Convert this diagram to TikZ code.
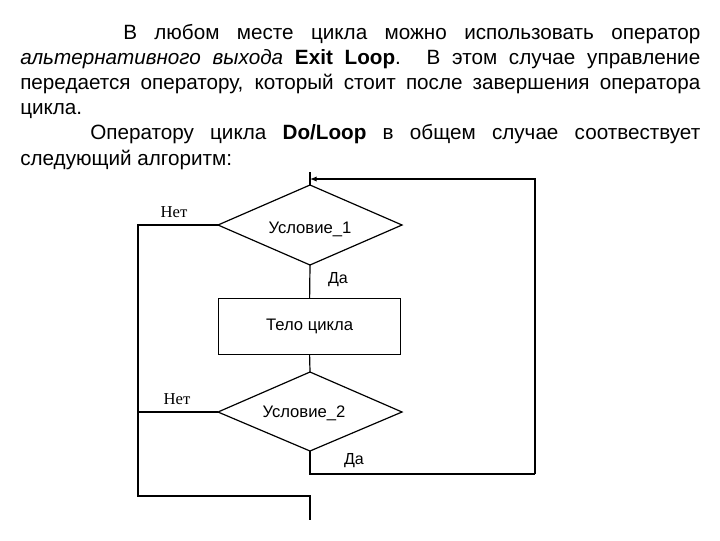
\documentclass[tikz,border=0pt]{standalone}
\usepackage{fontspec}
\setmainfont{Liberation Sans}
\newfontfamily\serif{Liberation Serif}
\usetikzlibrary{shapes.geometric,arrows.meta}
\begin{document}
\begin{tikzpicture}[x=0.75pt,y=-0.75pt,
  ln/.style={anchor=base west,inner sep=0,font=\fontsize{15.5}{18}\selectfont},
  dia/.style={draw,diamond,aspect=2.3,minimum width=184\pgflinewidth,inner sep=0},
  lbl/.style={font=\fontsize{12.5}{14}\selectfont,inner sep=0},
  wire/.style={draw,line width=0.9pt}]
\useasboundingbox (0,0) rectangle (720,540);
\node[ln] (t1) at (123,39) {\makebox[577\dimexpr0.75pt][s]{В любом месте цикла можно использовать оператор}};
\node[ln] (t2) at (20,64) {\makebox[680\dimexpr0.75pt][s]{\textit{альтернативного выхода} \textbf{Exit Loop}. В этом случае управление}};
\node[ln] (t3) at (20,89) {\makebox[680\dimexpr0.75pt][s]{передается оператору, который стоит после завершения оператора}};
\node[ln] (t4) at (20,114) {цикла.};
\node[ln] (t5) at (90,139) {\makebox[610\dimexpr0.75pt][s]{Оператору цикла \textbf{Do/Loop} в общем случае соотвествует}};
\node[ln] (t6) at (20,165) {следующий алгоритм:};
% diagram
\coordinate (d1t) at (310,185); \coordinate (d1l) at (218,225); \coordinate (d1r) at (402,225); \coordinate (d1b) at (310,265);
\coordinate (d2t) at (310,372); \coordinate (d2l) at (218,412); \coordinate (d2r) at (402,412); \coordinate (d2b) at (310,451);
\draw[wire] (d1t)--(d1r)--(d1b)--(d1l)--cycle;
\draw[wire] (d2t)--(d2r)--(d2b)--(d2l)--cycle;
\node[lbl] (c1) at (310,229) {Условие\_1};
\node[lbl] (c2) at (304,413) {Условие\_2};
\node[draw,line width=0.9pt,minimum width=182*0.75pt,minimum height=56*0.75pt,anchor=north west,lbl] (body) at (218,298) {Тело цикла};
\coordinate (top) at (310,172);
\coordinate (ar) at (535,179);
\coordinate (br) at (535,474);
\coordinate (bm) at (310,474);
\coordinate (l1) at (138,225);
\coordinate (l2) at (138,496);
\coordinate (m2) at (310,496);
\coordinate (end) at (310,520);
\draw[wire] (top)--(d1t);
\draw[wire,-{Latex[length=5pt,width=4pt]}] (br)--(ar)--(310,179);
\draw[wire] (d1b)--(body.north);
\draw[wire] (body.south)--(d2t);
\draw[wire] (d2b)--(bm)--(br);
\draw[wire] (d1l)--(l1)--(l2)--(m2)--(end);
\draw[wire] (d2l)--(138,412);
\node[font=\serif\fontsize{12.5}{14}\selectfont,inner sep=0] (n1) at (174,212) {Нет};
\node[font=\serif\fontsize{12.5}{14}\selectfont,inner sep=0] (n2) at (177,399) {Нет};
\node[lbl,font=\fontsize{12}{14}\selectfont] (y1) at (338,280) {Да};
\node[lbl,font=\fontsize{12}{14}\selectfont] (y2) at (354,461) {Да};
\end{tikzpicture}
\end{document}
